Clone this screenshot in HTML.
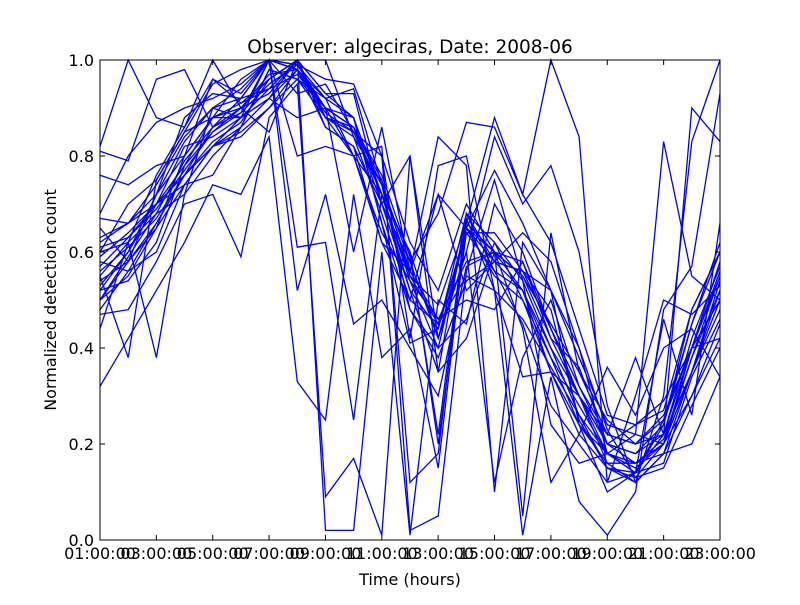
<!DOCTYPE html>
<html><head><meta charset="utf-8"><style>
body{margin:0;background:#fff;}
svg text{font-family:"DejaVu Sans","Liberation Sans",sans-serif;fill:#000;}
</style></head><body>
<svg id="chart" width="800" height="600" xmlns="http://www.w3.org/2000/svg">
<rect width="800" height="600" fill="#fff"/>
<g id="lines"></g>
<g id="axes"></g>
</svg>
<script>
const hours = ["01","02","03","04","05","06","07","08","09","10","11","12","13","14","15","16","17","18","19","20","21","22","23"];
const tickLabels = ["01:00:00","03:00:00","05:00:00","07:00:00","09:00:00","11:00:00","13:00:00","15:00:00","17:00:00","19:00:00","21:00:00","23:00:00"];
const yTicks = [0.0,0.2,0.4,0.6,0.8,1.0];
const s01 = [0.82,1.00,0.88,0.86,1.00,0.90,0.93,1.00,0.88,0.85,0.80,0.62,0.52,0.70,0.60,0.55,0.45,0.35,0.25,0.20,0.22,0.35,0.50];
const s02 = [0.76,0.74,0.78,0.80,0.96,0.93,1.00,0.98,0.90,0.86,0.75,0.55,0.45,0.64,0.56,0.52,0.40,0.30,0.20,0.16,0.20,0.40,0.55];
const s03 = [0.55,0.38,0.75,0.85,0.95,0.98,1.00,0.61,0.62,0.25,0.72,0.60,0.42,0.65,0.55,0.50,0.38,0.28,0.18,0.14,0.24,0.45,0.60];
const s04 = [0.60,0.62,0.38,0.72,0.90,0.88,1.00,0.52,0.72,0.45,0.50,0.40,0.30,0.57,0.60,0.55,0.42,0.30,0.16,0.12,0.18,0.35,0.52];
const s05 = [0.32,0.42,0.52,0.62,0.74,0.72,0.84,0.33,0.25,0.72,0.38,0.44,0.15,0.66,0.60,0.52,0.35,0.22,0.15,0.14,0.22,0.40,0.58];
const s06 = [0.47,0.48,0.58,0.70,0.72,0.59,0.88,0.95,0.09,0.17,0.01,0.80,0.35,0.68,0.58,0.56,0.48,0.25,0.15,0.13,0.20,0.35,0.48];
const s07 = [0.52,0.60,0.70,0.78,0.85,0.90,0.85,1.00,0.02,0.02,0.60,0.01,0.50,0.45,0.70,0.60,0.44,0.32,0.22,0.20,0.25,0.40,0.56];
const s08 = [0.60,0.70,0.75,0.85,0.88,0.96,1.00,0.80,0.82,0.80,0.82,0.02,0.05,0.56,0.75,0.54,0.40,0.26,0.18,0.16,0.20,0.38,0.55];
const s09 = [0.65,0.58,0.72,0.88,0.93,0.92,1.00,0.99,0.96,0.95,0.80,0.12,0.18,0.68,0.56,0.45,0.28,0.20,0.12,0.14,0.25,0.45,0.62];
const s10 = [0.58,0.56,0.60,0.74,0.82,0.86,0.98,0.96,0.92,0.94,0.74,0.48,0.40,0.46,0.62,0.50,0.35,0.24,0.18,0.15,0.20,0.30,0.42];
const s11 = [0.50,0.55,0.65,0.80,0.88,0.90,0.96,1.00,0.93,0.93,0.70,0.80,0.42,0.60,0.12,0.38,0.50,0.32,0.20,0.18,0.22,0.42,0.57];
const s12 = [0.68,0.80,0.87,0.90,0.92,0.95,1.00,0.98,0.86,0.82,0.62,0.50,0.72,0.52,0.58,0.52,0.38,0.24,0.16,0.16,0.21,0.38,0.52];
const s13 = [0.81,0.79,0.96,0.98,0.86,0.89,1.00,0.93,0.95,0.85,0.72,0.60,0.20,0.64,0.64,0.56,0.44,0.30,0.22,0.20,0.26,0.40,0.50];
const s14 = [0.54,0.58,0.66,0.76,0.86,0.92,1.00,0.99,0.90,0.88,0.66,0.41,0.44,0.65,0.60,0.58,0.44,0.30,0.18,0.14,0.16,0.34,0.46];
const s15 = [0.44,0.62,0.76,0.86,0.96,0.91,0.96,1.00,0.88,0.86,0.76,0.59,0.22,0.67,0.52,0.46,0.36,0.26,0.15,0.12,0.18,0.30,0.45];
const s16 = [0.62,0.66,0.70,0.82,0.84,0.88,0.94,1.00,0.88,0.80,0.62,0.56,0.84,0.78,0.10,0.62,0.52,0.40,0.23,0.13,0.15,0.28,0.40];
const s17 = [0.57,0.63,0.70,0.74,0.76,0.86,0.92,0.98,0.89,0.85,0.80,0.42,0.78,0.80,0.52,0.34,0.35,0.30,0.20,0.18,0.24,0.48,0.60];
const s18 = [0.52,0.54,0.62,0.78,0.88,0.88,0.92,0.88,0.90,0.60,0.86,0.56,0.72,0.65,0.77,0.66,0.52,0.38,0.24,0.22,0.20,0.35,0.54];
const s19 = [0.63,0.66,0.74,0.84,0.90,0.92,0.94,1.00,1.00,0.84,0.74,0.58,0.68,0.87,0.86,0.72,0.62,0.44,0.26,0.24,0.27,0.48,0.60];
const s20 = [0.59,0.64,0.70,0.76,0.82,0.84,0.90,0.98,0.92,0.80,0.72,0.55,0.49,0.66,0.88,0.72,1.00,0.84,0.12,0.30,0.50,0.47,0.53];
const s21 = [0.55,0.62,0.68,0.72,0.80,0.86,0.98,0.96,0.88,0.86,0.70,0.58,0.42,0.60,0.84,0.70,0.78,0.60,0.28,0.12,0.30,0.83,1.00];
const s22 = [0.50,0.58,0.65,0.74,0.82,0.85,0.90,0.96,0.90,0.86,0.72,0.54,0.40,0.65,0.58,0.64,0.58,0.40,0.18,0.22,0.83,0.55,0.50];
const s23 = [0.67,0.66,0.72,0.80,0.88,0.91,0.94,0.97,0.90,0.80,0.64,0.54,0.46,0.58,0.60,0.05,0.64,0.35,0.22,0.38,0.22,0.90,0.83];
const s24 = [0.53,0.60,0.72,0.83,0.90,0.94,1.00,0.98,0.88,0.84,0.68,0.50,0.45,0.55,0.52,0.01,0.34,0.08,0.01,0.10,0.48,0.57,0.93];
const s25 = [0.48,0.56,0.66,0.76,0.82,0.88,0.92,1.00,0.93,0.88,0.72,0.52,0.35,0.42,0.60,0.44,0.12,0.22,0.36,0.26,0.40,0.44,0.34];
const s26 = [0.61,0.63,0.69,0.77,0.85,0.89,0.95,0.99,0.92,0.88,0.66,0.48,0.38,0.54,0.58,0.56,0.52,0.24,0.10,0.14,0.46,0.26,0.66];
const s27 = [0.56,0.61,0.67,0.76,0.83,0.87,0.96,1.00,0.86,0.82,0.70,0.52,0.44,0.68,0.62,0.54,0.24,0.16,0.18,0.16,0.18,0.20,0.34];
const s28 = [0.50,0.59,0.68,0.79,0.86,0.90,0.97,0.98,0.90,0.86,0.74,0.56,0.46,0.50,0.48,0.58,0.42,0.36,0.20,0.24,0.29,0.40,0.42];
const series = [s01,s02,s03,s04,s05,s06,s07,s08,s09,s10,s11,s12,s13,s14,s15,s16,s17,s18,s19,s20,s21,s22,s23,s24,s25,s26,s27,s28];

const NS = "http://www.w3.org/2000/svg";
const X0 = 100, X1 = 720, Y0 = 540, Y1 = 60;
function xScale(i){ return X0 + i * (X1 - X0) / (hours.length - 1); }
function yScale(v){ return Y0 - v * (Y0 - Y1); }
function mk(tag, attrs, parent){ const e = document.createElementNS(NS, tag); for (const k in attrs) e.setAttribute(k, attrs[k]); parent.appendChild(e); return e; }

const gl = document.getElementById('lines');
series.forEach((s, si) => {
  const pts = s.map((v, i) => xScale(i).toFixed(1) + ',' + yScale(v).toFixed(1)).join(' ');
  const p = mk('polyline', {points: pts, fill: 'none', stroke: '#0000ff', 'stroke-width': 1.3}, gl);
  
  
});

const ga = document.getElementById('axes');
const frame = mk('rect', {x: X0, y: Y1, width: X1 - X0, height: Y0 - Y1, fill: 'none', stroke: '#000', 'stroke-width': 1}, ga);



tickLabels.forEach((lab, j) => {
  const x = xScale(j * 2);
  mk('line', {x1: x, y1: Y0, x2: x, y2: Y0 - 5, stroke: '#000'}, ga);
  mk('line', {x1: x, y1: Y1, x2: x, y2: Y1 + 5, stroke: '#000'}, ga);
  const t = mk('text', {x: x, y: Y0 + 19, 'text-anchor': 'middle', 'font-size': 16}, ga);
  t.textContent = lab;
  
  
});
yTicks.forEach(v => {
  const y = yScale(v);
  mk('line', {x1: X0, y1: y, x2: X0 + 5, y2: y, stroke: '#000'}, ga);
  mk('line', {x1: X1, y1: y, x2: X1 - 5, y2: y, stroke: '#000'}, ga);
  const t = mk('text', {x: X0 - 6, y: y + 6, 'text-anchor': 'end', 'font-size': 16}, ga);
  t.textContent = v.toFixed(1);
  
  
});
const title = mk('text', {x: 410, y: 53, 'text-anchor': 'middle', 'font-size': 18.5}, ga);
title.textContent = 'Observer: algeciras, Date: 2008-06';


const xt = mk('text', {x: 410, y: 585, 'text-anchor': 'middle', 'font-size': 16}, ga);
xt.textContent = 'Time (hours)';


const yt = mk('text', {x: 56, y: 300, 'text-anchor': 'middle', 'font-size': 16, transform: 'rotate(-90 56 300)'}, ga);
yt.textContent = 'Normalized detection count';


</script>
</body></html>
